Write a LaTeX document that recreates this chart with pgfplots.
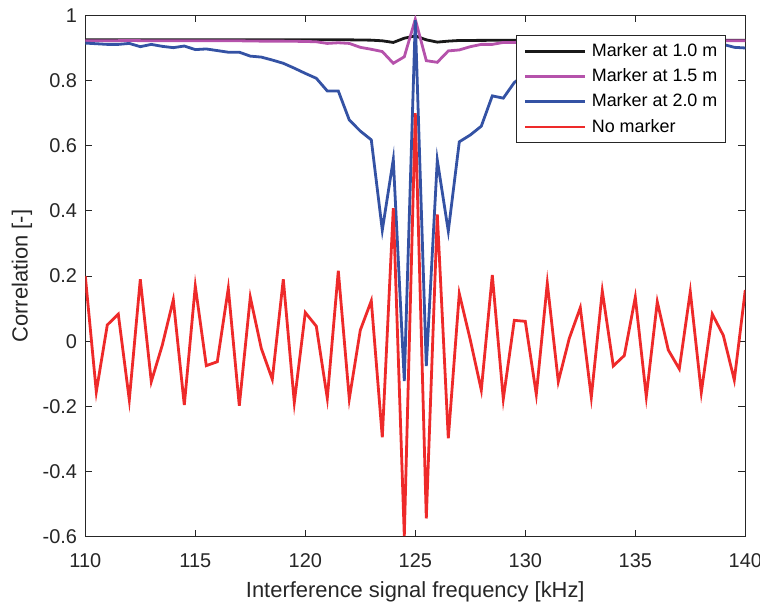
\documentclass[border=0pt]{standalone}
\usepackage{fontspec}
\setmainfont{Liberation Sans}
\usepackage{pgfplots}
\pgfplotsset{compat=1.18}

\definecolor{axgray}{RGB}{38,38,38}
\definecolor{cblack}{RGB}{25,25,25}
\definecolor{cmag}{RGB}{181,82,171}
\definecolor{cblue}{RGB}{52,82,164}
\definecolor{cred}{RGB}{238,42,42}

% frequency [kHz], correlation
\pgfplotstableread{
f c
110 0.925
112 0.925
114 0.925
116 0.925
118 0.925
120 0.925
122 0.925
123 0.924
123.5 0.922
124 0.917
124.5 0.930
125 0.937
125.5 0.925
126 0.918
126.5 0.921
127 0.923
130 0.924
135 0.924
140 0.924
}\markone

\pgfplotstableread{
f c
110 0.922
111 0.922
112 0.923
113 0.922
114 0.922
115 0.922
116 0.922
117 0.922
118 0.921
119 0.921
120 0.920
120.5 0.919
121 0.914
121.5 0.916
122 0.914
122.5 0.902
123 0.896
123.5 0.889
124 0.853
124.5 0.873
125 0.988
125.5 0.861
126 0.856
126.5 0.891
127 0.894
127.5 0.904
128 0.911
128.5 0.911
129 0.917
129.5 0.917
130 0.919
132 0.920
134 0.921
136 0.922
138 0.922
140 0.922
}\markonefive

\pgfplotstableread{
f c
110 0.915
110.5 0.913
111 0.911
111.5 0.911
112 0.914
112.5 0.904
113 0.911
113.5 0.905
114 0.901
114.5 0.906
115 0.895
115.5 0.897
116 0.892
116.5 0.887
117 0.887
117.5 0.875
118 0.872
118.5 0.863
119 0.853
119.5 0.838
120 0.822
120.5 0.807
121 0.768
121.5 0.768
122 0.679
122.5 0.645
123 0.618
123.5 0.341
124 0.558
124.5 -0.122
125 0.985
125.5 -0.076
126 0.556
126.5 0.338
127 0.612
127.5 0.633
128 0.660
128.5 0.753
129 0.746
129.5 0.794
130 0.820
130.5 0.840
131 0.853
131.5 0.863
132 0.872
132.5 0.875
133 0.887
133.5 0.887
134 0.892
134.5 0.897
135 0.895
135.5 0.906
136 0.901
136.5 0.905
137 0.911
137.5 0.904
138 0.914
138.5 0.911
139 0.911
139.5 0.902
140 0.900
}\marktwo

\pgfplotstableread{
f c
110 0.200
110.5 -0.155
111 0.050
111.5 0.083
112 -0.180
112.5 0.190
113 -0.124
113.5 -0.012
114 0.127
114.5 -0.196
115 0.169
115.5 -0.075
116 -0.063
116.5 0.162
117 -0.198
117.5 0.135
118 -0.022
118.5 -0.117
119 0.190
119.5 -0.188
120 0.088
120.5 0.046
121 -0.175
121.5 0.216
122 -0.177
122.5 0.034
123 0.124
123.5 -0.295
124 0.408
124.5 -0.598
125 0.700
125.5 -0.544
126 0.389
126.5 -0.298
127 0.146
127.5 0.004
128 -0.150
128.5 0.203
129 -0.177
129.5 0.064
130 0.061
130.5 -0.163
131 0.178
131.5 -0.124
132 0.009
132.5 0.103
133 -0.172
133.5 0.154
134 -0.076
134.5 -0.044
135 0.135
135.5 -0.170
136 0.121
136.5 -0.027
137 -0.085
137.5 0.152
138 -0.157
138.5 0.083
139 0.018
139.5 -0.119
140 0.157
}\nomarker

\begin{document}
\begin{tikzpicture}
\begin{axis}[
    at={(0,0)}, anchor=south west,
    scale only axis,
    width=330bp, height=260.65bp,
    xmin=110, xmax=140,
    ymin=-0.6, ymax=1,
    xtick={110,115,120,125,130,135,140},
    xticklabels={110,115,120,125,130,135,140},
    ytick={-0.6,-0.4,-0.2,0,0.2,0.4,0.6,0.8,1},
    yticklabels={-0.6,-0.4,-0.2,0,0.2,0.4,0.6,0.8,1},
    tick align=inside,
    xtick pos=both, ytick pos=both,
    xticklabel pos=left, yticklabel pos=left,
    major tick length=3.5bp,
    axis line style={draw=axgray, line width=0.5bp},
    every tick/.style={draw=axgray, line width=0.5bp},
    tick label style={font=\fontsize{10}{12}\selectfont, text=axgray},
    xticklabel style={anchor=base, yshift=-15.5bp},
    yticklabel style={anchor=east, xshift=-0.6bp},
    label style={font=\fontsize{11}{13}\selectfont, text=axgray},
    xlabel={Interference signal frequency [kHz]},
    xlabel style={at={(axis description cs:0.5,0)}, anchor=base, yshift=-30.15bp},
    ylabel={Correlation [-]},
    ylabel style={at={(axis description cs:-0.0958,0.5)}, anchor=center, rotate=0},
    legend cell align=left,
    legend image code/.code={\draw[#1] (0bp,0bp) -- (30bp,0bp);},
    legend style={
        at={(0.97,0.962)}, anchor=north east,
        draw=axgray, line width=0.5bp, fill=white,
        font=\fontsize{9}{11}\selectfont,
        inner xsep=3.8bp, inner ysep=3.2bp,
        nodes={inner sep=0pt, text height=7bp, text depth=2bp},
        row sep=3.65bp,
        /tikz/every odd column/.append style={column sep=2.6bp},
    },
    clip=true,
]
\addplot[cblack, line width=1.4bp] table[x=f, y=c] {\markone};
\addlegendentry{Marker at 1.0 m}
\addplot[cmag, line width=1.4bp] table[x=f, y=c] {\markonefive};
\addlegendentry{Marker at 1.5 m}
\addplot[cblue, line width=1.4bp] table[x=f, y=c] {\marktwo};
\addlegendentry{Marker at 2.0 m}
\addplot[cred, line width=1.4bp] table[x=f, y=c] {\nomarker};
\addlegendentry{No marker}
\end{axis}
\pgfresetboundingbox
\useasboundingbox (-42.65bp,-33.15bp) rectangle (337.35bp,268.35bp);
\end{tikzpicture}
\end{document}
